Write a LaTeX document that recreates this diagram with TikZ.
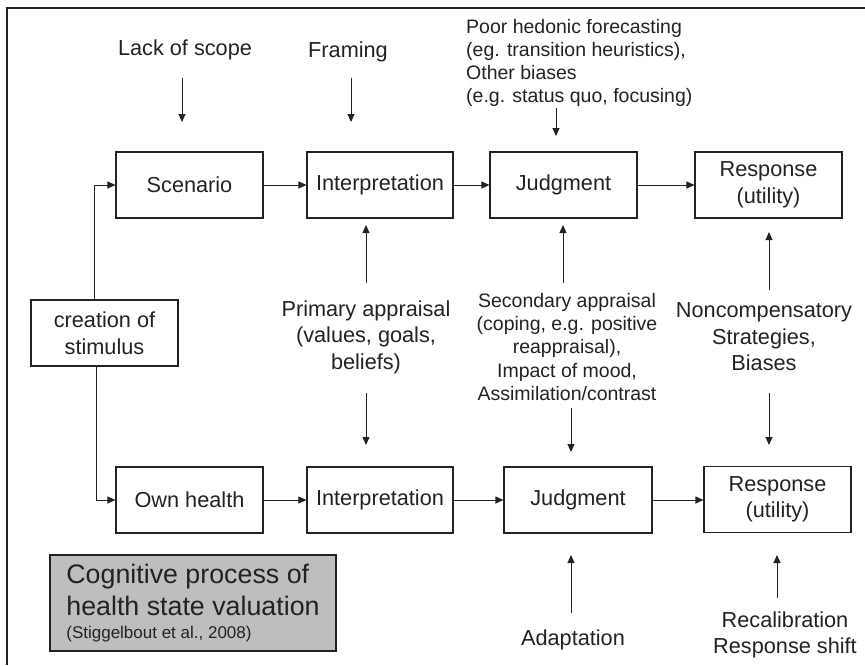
\documentclass[tikz,border=0pt]{standalone}
\usepackage{fontspec}
\setmainfont{Liberation Sans}
\usetikzlibrary{arrows.meta}
\newcommand\fbig{\fontsize{21.7}{26.5}\selectfont}
\newcommand\fmid{\fontsize{19.5}{23.3}\selectfont}
\newcommand\fhuge{\fontsize{26.8}{32}\selectfont}
\newcommand\fsmall{\fontsize{17}{32}\selectfont}
\definecolor{ink}{HTML}{222222}
\definecolor{boxgray}{HTML}{BEBEC0}
\begin{document}
\begin{tikzpicture}[x=1pt,y=-1pt,
  every node/.style={text=ink},
  stage/.style={draw=ink,line width=1.1pt,minimum width=147pt,minimum height=66pt,inner sep=0pt,align=center,font=\fbig},
  lbl/.style={inner sep=0pt,align=center,font=\fbig},
  arr/.style={draw=ink,line width=1pt,-{Triangle[length=8pt,width=7pt]}}]
\useasboundingbox (0,0) rectangle (865,665);
\draw[ink,line width=1.2pt] (7,665) -- (7,8) -- (865,8);

% top row
\node[stage] (scen) at (189.5,185) {Scenario};
\node[stage,minimum width=146pt] (intT) at (380,185) {Interpretation};
\node[stage] (judT) at (563.5,185) {Judgment};
\node[stage] (resT) at (768.5,185) {Response\\(utility)};
% stimulus
\node[stage] (crea) at (104.5,333) {creation of\\stimulus};
% bottom row
\node[stage] (own) at (189.5,500) {Own health};
\node[stage,minimum width=146pt] (intB) at (380,500) {Interpretation};
\node[stage,minimum width=148pt] (judB) at (578,500) {Judgment};
\node[stage] (resB) at (777.5,499.5) {Response\\(utility)};
% title box
\node[draw=ink,line width=1.1pt,fill=boxgray,minimum width=286pt,minimum height=96pt,inner sep=0pt,align=left,font=\fhuge] (title) at (193,603)
  {Cognitive process of\\health state valuation\\[-9pt]\fsmall (Stiggelbout et al., 2008)};

% labels
\node[lbl] (lack) at (185,50) {Lack of scope};
\node[lbl] (fram) at (348,52) {Framing};
\node[lbl,anchor=west,align=left,font=\fmid] (poor) at (466,63) {Poor hedonic forecasting\\(eg. transition heuristics),\\Other biases\\(e.g. status quo, focusing)};
\node[lbl] (prim) at (366,337) {Primary appraisal\\(values, goals,\\beliefs)};
\node[lbl,font=\fmid] (seco) at (567,347) {Secondary appraisal\\(coping, e.g. positive\\reappraisal),\\Impact of mood,\\Assimilation/contrast};
\node[lbl] (nonc) at (764,337) {Noncompensatory\\Strategies,\\Biases};
\node[lbl] (adap) at (573,640) {Adaptation};
\node[lbl] (reca) at (785,635) {Recalibration\\Response shift};

% flow connectors
\draw[arr] ([xshift=-10.5pt]crea.north) |- (scen.west);
\draw[arr] ([xshift=-8.5pt]crea.south) |- (own.west);
\draw[arr] (scen) -- (intT);
\draw[arr] (intT) -- (judT);
\draw[arr] (judT) -- (resT);
\draw[arr] (own) -- (intB);
\draw[arr] (intB) -- (judB);
\draw[arr] (judB) -- (resB.west |- judB);

% influence arrows
\coordinate (l1) at (182,78);  \coordinate (l2) at (182,122);
\coordinate (f1) at (351,78);  \coordinate (f2) at (351,122);
\coordinate (p1) at (556,108); \coordinate (p2) at (556,136);
\coordinate (pa1) at (366,283); \coordinate (pa2) at (366,225);
\coordinate (pb1) at (366,393); \coordinate (pb2) at (366,445);
\coordinate (sa1) at (563,283); \coordinate (sa2) at (563,225);
\coordinate (sb1) at (571,408); \coordinate (sb2) at (571,452);
\coordinate (na1) at (769,290); \coordinate (na2) at (769,232);
\coordinate (nb1) at (769,393); \coordinate (nb2) at (769,445);
\coordinate (ad1) at (571,613); \coordinate (ad2) at (571,555);
\coordinate (rc1) at (777,598); \coordinate (rc2) at (777,555);
\draw[arr] (l1) -- (l2);
\draw[arr] (f1) -- (f2);
\draw[arr] (p1) -- (p2);
\draw[arr] (pa1) -- (pa2);
\draw[arr] (pb1) -- (pb2);
\draw[arr] (sa1) -- (sa2);
\draw[arr] (sb1) -- (sb2);
\draw[arr] (na1) -- (na2);
\draw[arr] (nb1) -- (nb2);
\draw[arr] (ad1) -- (ad2);
\draw[arr] (rc1) -- (rc2);
\end{tikzpicture}
\end{document}
